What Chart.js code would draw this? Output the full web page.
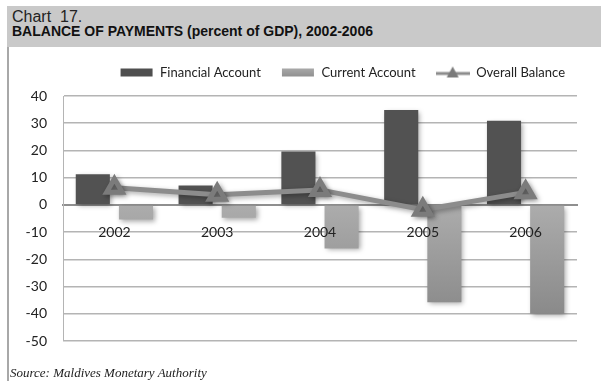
<!DOCTYPE html>
<html>
<head>
<meta charset="utf-8">
<script src="https://cdn.jsdelivr.net/npm/chart.js@4.4.0/dist/chart.umd.min.js"></script>
<style>
  body { margin: 0; background: #fff; width: 601px; height: 381px; overflow: hidden; position: relative; }
  .head { position: absolute; left: 7px; top: 6px; width: 594px; height: 41px; background: #c9c9c9; }
  .head .num { position: absolute; left: 5px; top: 2px; font: 16px "Liberation Sans", Arial, sans-serif; color: #222; }
  .head .ttl { position: absolute; left: 5px; top: 17px; font: bold 14px "Liberation Sans", Arial, sans-serif; color: #111; }
  .rule { position: absolute; left: 7px; top: 47px; width: 2px; height: 334px; background: #a8a8a8; }
  .src { position: absolute; left: 10px; top: 365px; font: italic 13px "Liberation Serif", "Times New Roman", serif; color: #222; }
  #wrap { position: absolute; left: 0; top: 46px; width: 601px; height: 335px; }
</style>
</head>
<body>
<div class="head">
  <div class="num">Chart&nbsp; 17.</div>
  <div class="ttl">BALANCE OF PAYMENTS (percent of GDP), 2002-2006</div>
</div>
<div class="rule"></div>
<div id="wrap"><canvas id="bopChart"></canvas></div>
<div class="src">Source: Maldives Monetary Authority</div>

<script>
    // ---------- DATA ----------
    const years = ["2002", "2003", "2004", "2005", "2006"];
    const financialAccount = [11.3, 7.1, 19.6, 34.9, 30.9];
    const currentAccount = [-5.4, -4.7, -16.0, -35.8, -40.0];
    const overallBalance = [6.3, 3.7, 5.5, -1.8, 4.6];
    const yTicks = [40, 30, 20, 10, 0, -10, -20, -30, -40, -50];

    const FONT = "Lato, 'Open Sans', sans-serif";

    // ---------- LEGEND SWATCHES ----------
    function swatch(draw) {
        const c = document.createElement("canvas");
        c.width = 34; c.height = 14;
        draw(c.getContext("2d"));
        return c;
    }
    const finSwatch = swatch(ctx => { ctx.fillStyle = "#4f4f4f"; ctx.fillRect(1, 3, 32, 8); });
    const curSwatch = swatch(ctx => {
        const g = ctx.createLinearGradient(0, 3, 0, 11);
        g.addColorStop(0, "#a9a9a9"); g.addColorStop(1, "#909090");
        ctx.fillStyle = g; ctx.fillRect(1, 3, 32, 8);
    });
    const balSwatch = swatch(ctx => {
        ctx.strokeStyle = "#8c8c8c"; ctx.lineWidth = 3;
        ctx.beginPath(); ctx.moveTo(0, 8); ctx.lineTo(34, 8); ctx.stroke();
        ctx.fillStyle = "#7a7a7a";
        ctx.beginPath(); ctx.moveTo(17, 1); ctx.lineTo(23, 12); ctx.lineTo(11, 12); ctx.closePath(); ctx.fill();
    });
    const swatches = [finSwatch, curSwatch, balSwatch];

    // soft drop shadow under bars and line
    const shadowPlugin = {
        id: "shadow",
        beforeDatasetsDraw(chart) {
            const ctx = chart.ctx;
            ctx.save();
            ctx.shadowColor = "rgba(0,0,0,0.35)";
            ctx.shadowBlur = 5;
            ctx.shadowOffsetX = 2;
            ctx.shadowOffsetY = 2;
        },
        afterDatasetsDraw(chart) {
            chart.ctx.restore();
        }
    };

    function currentFill(context) {
        const chart = context.chart;
        const area = chart.chartArea;
        if (!area) return "#9c9c9c";
        const y = chart.scales.y;
        const g = chart.ctx.createLinearGradient(0, y.getPixelForValue(0), 0, y.getPixelForValue(-40));
        g.addColorStop(0, "#acacac");
        g.addColorStop(1, "#8a8a8a");
        return g;
    }

    new Chart(document.getElementById("bopChart"), {
        type: "bar",
        data: {
            labels: years,
            datasets: [
                {
                    label: "Financial Account",
                    data: financialAccount,
                    backgroundColor: "#525252",
                    categoryPercentage: 0.84,
                    barPercentage: 0.79
                },
                {
                    label: "Current Account",
                    data: currentAccount,
                    backgroundColor: currentFill,
                    categoryPercentage: 0.84,
                    barPercentage: 0.79
                },
                {
                    type: "line",
                    label: "Overall Balance",
                    data: overallBalance,
                    order: -1,
                    borderColor: "#8c8c8c",
                    borderWidth: 5,
                    pointStyle: "triangle",
                    pointRadius: 9,
                    pointBackgroundColor: "#7b7b7b",
                    pointBorderColor: "#7b7b7b",
                    tension: 0
                }
            ]
        },
        options: {
            responsive: true,
            maintainAspectRatio: false,
            animation: false,
            layout: { padding: { left: 8, right: 16, top: 0, bottom: 40 } },
            plugins: {
                tooltip: { enabled: false },
                legend: {
                    position: "top",
                    align: "end",
                    labels: {
                        usePointStyle: true,
                        pointStyleWidth: 34,
                        boxHeight: 14,
                        padding: 20,
                        color: "#222",
                        font: { family: FONT, size: 13 },
                        generateLabels: chart => chart.data.datasets.map((ds, i) => ({
                            text: ds.label,
                            datasetIndex: i,
                            pointStyle: swatches[i],
                            fontColor: "#222",
                            lineWidth: 0,
                            hidden: false
                        }))
                    }
                },
                // blank strip between the legend and the plot
                subtitle: {
                    display: true,
                    text: " ",
                    weight: 100,
                    padding: 0,
                    font: { size: 7, lineHeight: 1 }
                }
            },
            scales: {
                x: {
                    position: { y: 0 },
                    grid: { display: false, drawTicks: false },
                    border: { display: true, color: "#8f8f8f", width: 2 },
                    ticks: { z: 1, color: "#222", padding: 19, font: { family: FONT, size: 14 } }
                },
                y: {
                    min: -50,
                    max: 40,
                    afterFit: scale => { scale.width = 55; },
                    afterBuildTicks: scale => { scale.ticks = yTicks.map(v => ({ value: v })); },
                    grid: { color: "#b4b4b4", lineWidth: 1.5, drawTicks: false },
                    border: { display: true, color: "#b4b4b4", width: 1 },
                    ticks: { color: "#222", padding: 16, font: { family: FONT, size: 14 } }
                },
                // empty right-hand spacer so the plot stops short of the legend's right edge
                spacer: {
                    axis: "y",
                    position: "right",
                    afterFit: scale => { scale.width = 8; },
                    grid: { display: false, drawTicks: false },
                    border: { display: false },
                    ticks: { display: false }
                }
            }
        },
        plugins: [shadowPlugin]
    });
</script>
</body>
</html>
